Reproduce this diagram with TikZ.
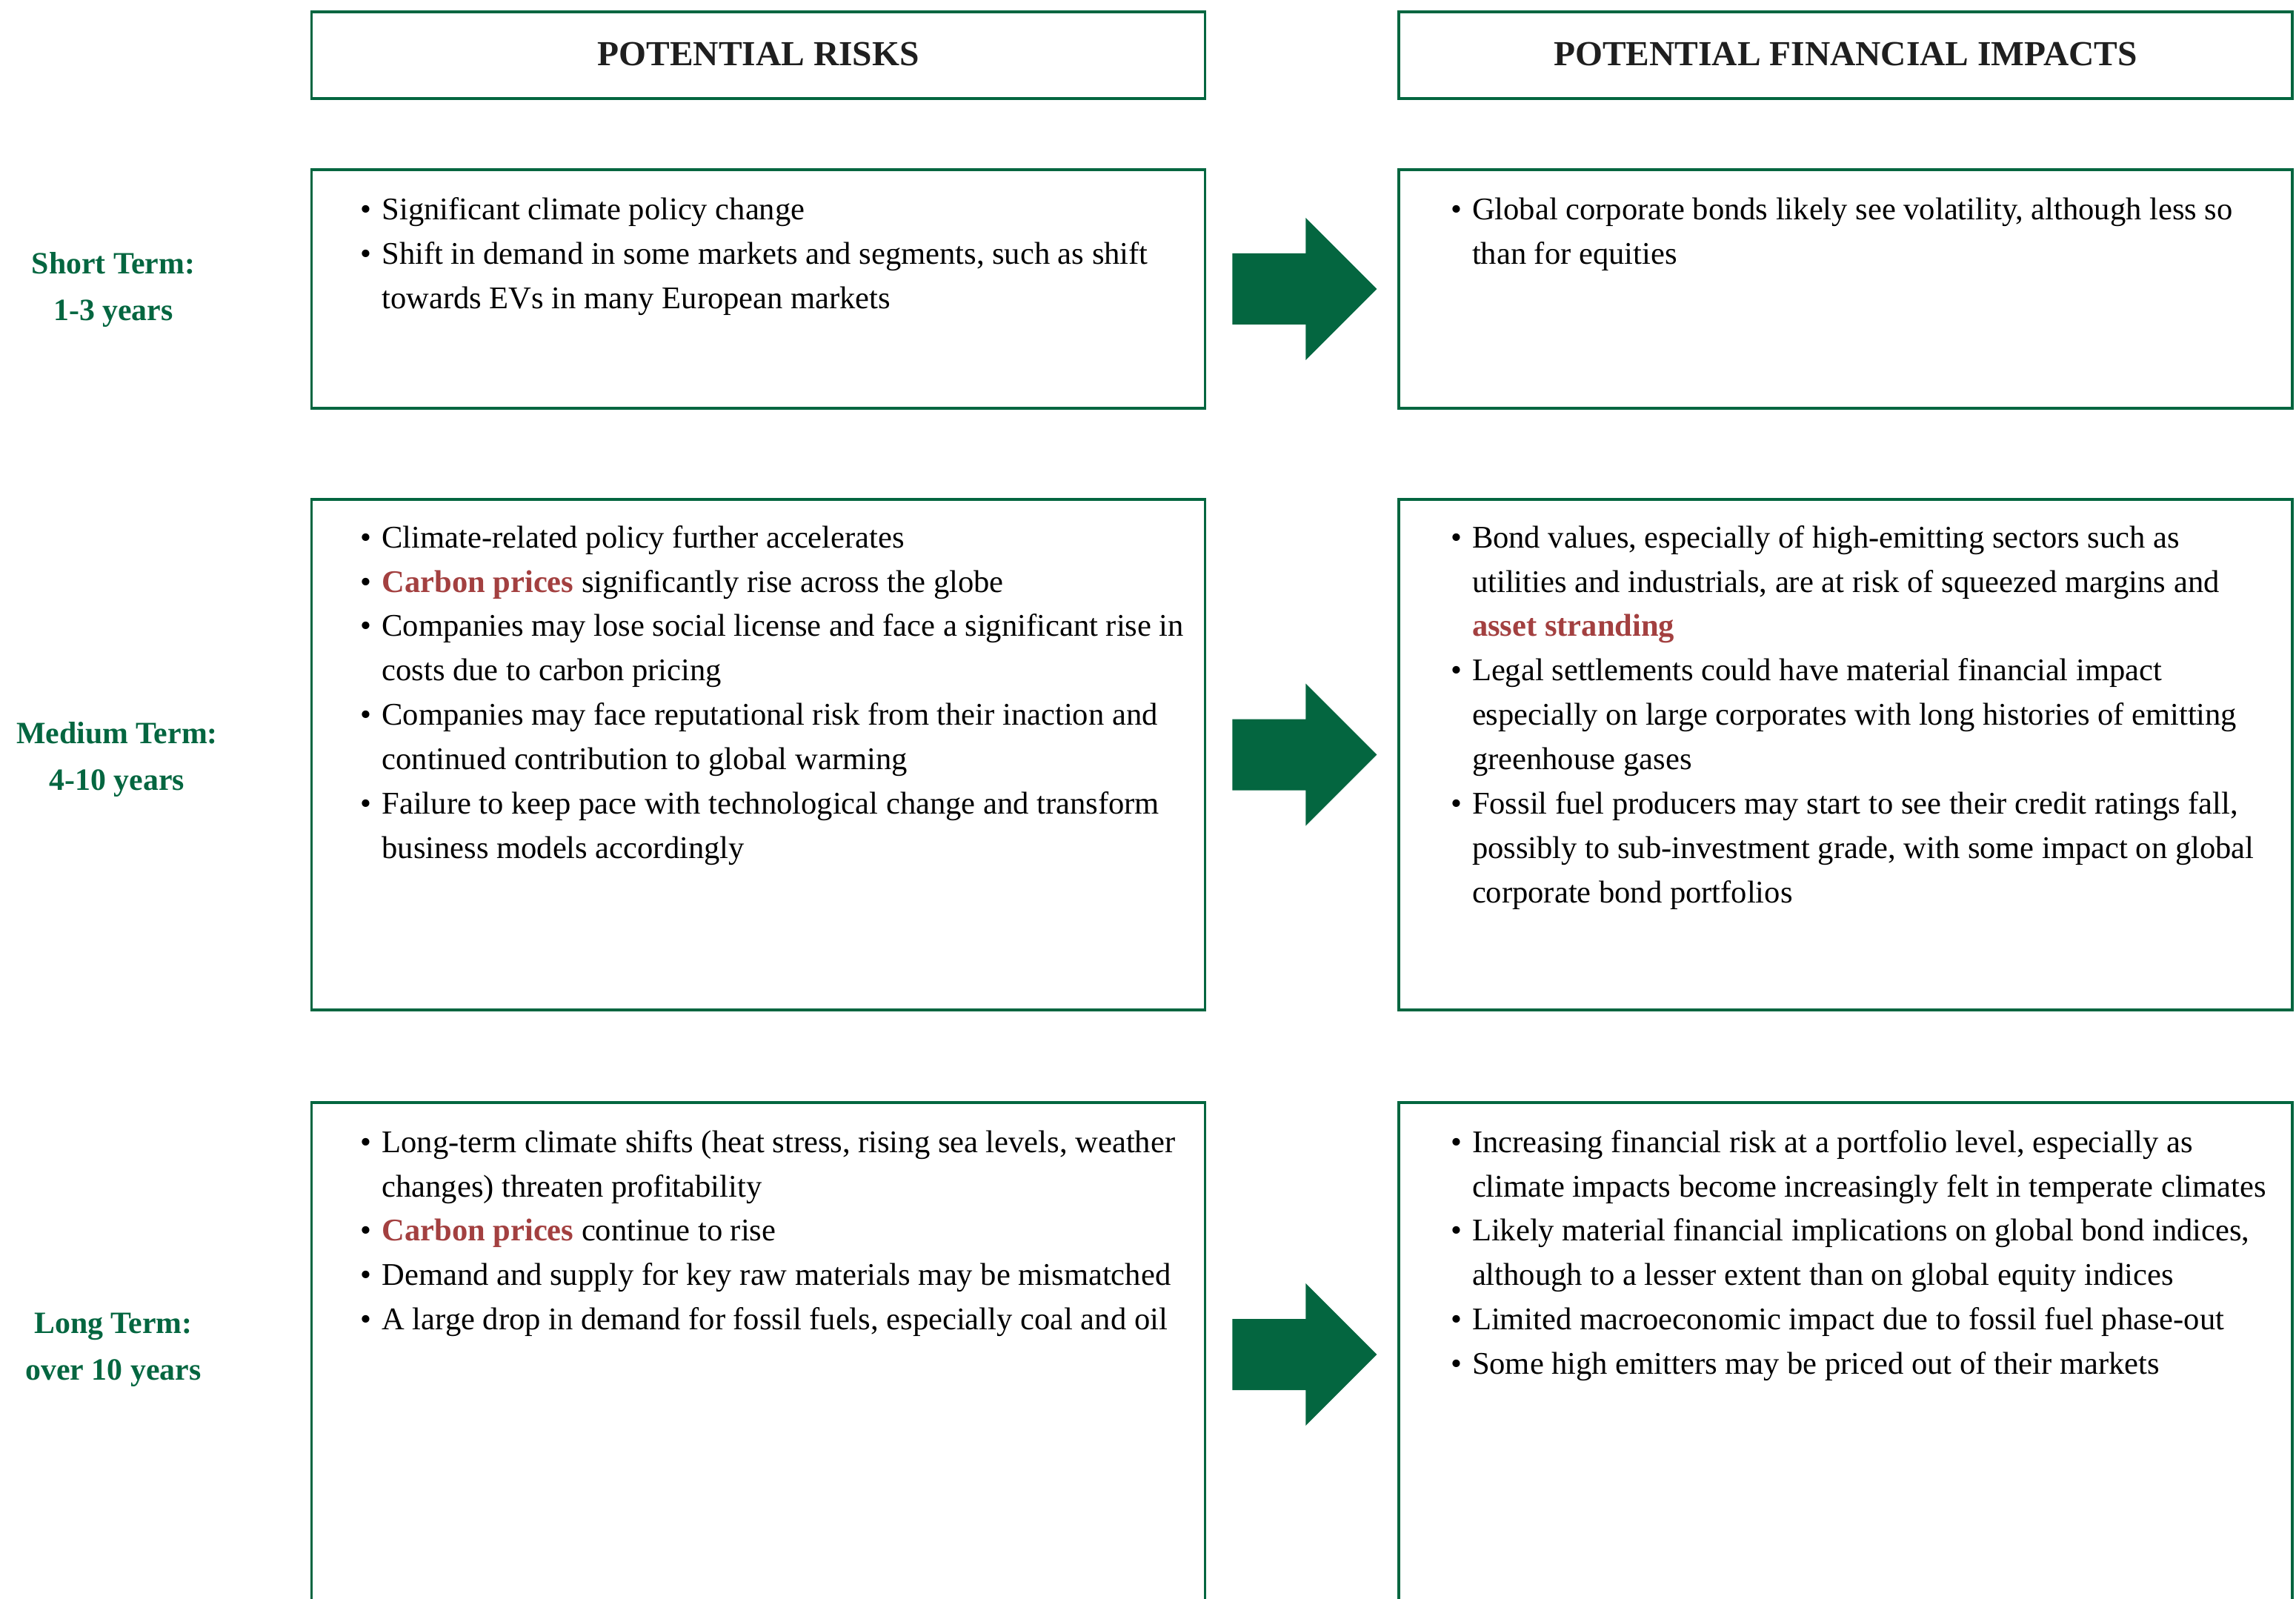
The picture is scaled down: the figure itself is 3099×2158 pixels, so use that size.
\documentclass[tikz,border=0pt]{standalone}
\usepackage{fontspec}
\setmainfont{Liberation Serif}
\usetikzlibrary{calc}
\definecolor{tcfdgreen}{RGB}{4,102,64}
\definecolor{keyred}{RGB}{163,64,64}
\newcommand{\keyword}[1]{\textcolor{keyred}{\textbf{#1}}}
\begin{document}
\begin{tikzpicture}[x=0.01cm, y=-0.01cm,
  box/.style = {draw=tcfdgreen, line width=1pt, inner sep=0, minimum width=12.05cm},
  head/.style = {box, minimum height=1.17cm, text=black!88,
    font=\fontsize{13.5}{16}\selectfont\bfseries},
  term/.style = {align=center, text=tcfdgreen,
    font=\fontsize{11.9}{18}\selectfont\bfseries},
  items/.style = {anchor=base west, inner sep=0, font=\fontsize{12.1}{17.05}\selectfont}]
  \useasboundingbox (0,0) rectangle (3099,2158);

  % column heads
  \node[head] (hrisk) at (1023.5,74.5) {\raisebox{1pt}{POTENTIAL RISKS}};
  \node[head] (himpact) at (2491,74.5) {\raisebox{1pt}{POTENTIAL FINANCIAL IMPACTS}};

  % row boxes
  \node[box, minimum height=3.22cm] (risk1) at (1023.5,390) {};
  \node[box, minimum height=3.22cm] (impact1) at (2491,390) {};
  \node[box, minimum height=6.89cm] (risk2) at (1023.5,1018.5) {};
  \node[box, minimum height=6.89cm] (impact2) at (2491,1018.5) {};
  \node[box, minimum height=6.80cm] (risk3) at (1023.5,1828) {};
  \node[box, minimum height=6.80cm] (impact3) at (2491,1828) {};

  % time horizons
  \node[term] (term1) at (153,391) {Short Term:\\1-3 years};
  \node[term] (term2) at (158,1025) {Medium Term:\\4-10 years};
  \node[term] (term3) at (153,1822) {Long Term:\\over 10 years};

  % block arrows
  \foreach \i in {1,2,3}
    \fill[tcfdgreen] ($(risk\i.east)!0.5!(impact\i.west)$) ++(-94,-48)
      -- ++(99,0) -- ++(0,-48) -- ++(96,96) -- ++(-96,96) -- ++(0,-48) -- ++(-99,0) -- cycle;

  % short term
  \node[items] (rtxt1) at ($(risk1.north west)+(67,69)$) {\begin{tabular}[t]{@{}l@{\hspace{4pt}}l@{}}
    \textbullet & Significant climate policy change\\
    \textbullet & Shift in demand in some markets and segments, such as shift\\
     & towards EVs in many European markets
  \end{tabular}};
  \node[items] (itxt1) at ($(impact1.north west)+(71,69)$) {\begin{tabular}[t]{@{}l@{\hspace{4pt}}l@{}}
    \textbullet & Global corporate bonds likely see volatility, although less so\\
     & than for equities
  \end{tabular}};

  % medium term
  \node[items] (rtxt2) at ($(risk2.north west)+(67,67)$) {\begin{tabular}[t]{@{}l@{\hspace{4pt}}l@{}}
    \textbullet & Climate-related policy further accelerates\\
    \textbullet & \keyword{Carbon prices} significantly rise across the globe\\
    \textbullet & Companies may lose social license and face a significant rise in\\
     & costs due to carbon pricing\\
    \textbullet & Companies may face reputational risk from their inaction and\\
     & continued contribution to global warming\\
    \textbullet & Failure to keep pace with technological change and transform\\
     & business models accordingly
  \end{tabular}};
  \node[items] (itxt2) at ($(impact2.north west)+(71,67)$) {\begin{tabular}[t]{@{}l@{\hspace{4pt}}l@{}}
    \textbullet & Bond values, especially of high-emitting sectors such as\\
     & utilities and industrials, are at risk of squeezed margins and\\
     & \keyword{asset stranding}\\
    \textbullet & Legal settlements could have material financial impact\\
     & especially on large corporates with long histories of emitting\\
     & greenhouse gases\\
    \textbullet & Fossil fuel producers may start to see their credit ratings fall,\\
     & possibly to sub-investment grade, with some impact on global\\
     & corporate bond portfolios
  \end{tabular}};

  % long term
  \node[items] (rtxt3) at ($(risk3.north west)+(67,69)$) {\begin{tabular}[t]{@{}l@{\hspace{4pt}}l@{}}
    \textbullet & Long-term climate shifts (heat stress, rising sea levels, weather\\
     & changes) threaten profitability\\
    \textbullet & \keyword{Carbon prices} continue to rise\\
    \textbullet & Demand and supply for key raw materials may be mismatched\\
    \textbullet & A large drop in demand for fossil fuels, especially coal and oil
  \end{tabular}};
  \node[items] (itxt3) at ($(impact3.north west)+(71,69)$) {\begin{tabular}[t]{@{}l@{\hspace{4pt}}l@{}}
    \textbullet & Increasing financial risk at a portfolio level, especially as\\
     & climate impacts become increasingly felt in temperate climates\\
    \textbullet & Likely material financial implications on global bond indices,\\
     & although to a lesser extent than on global equity indices\\
    \textbullet & Limited macroeconomic impact due to fossil fuel phase-out\\
    \textbullet & Some high emitters may be priced out of their markets
  \end{tabular}};
\end{tikzpicture}
\end{document}
